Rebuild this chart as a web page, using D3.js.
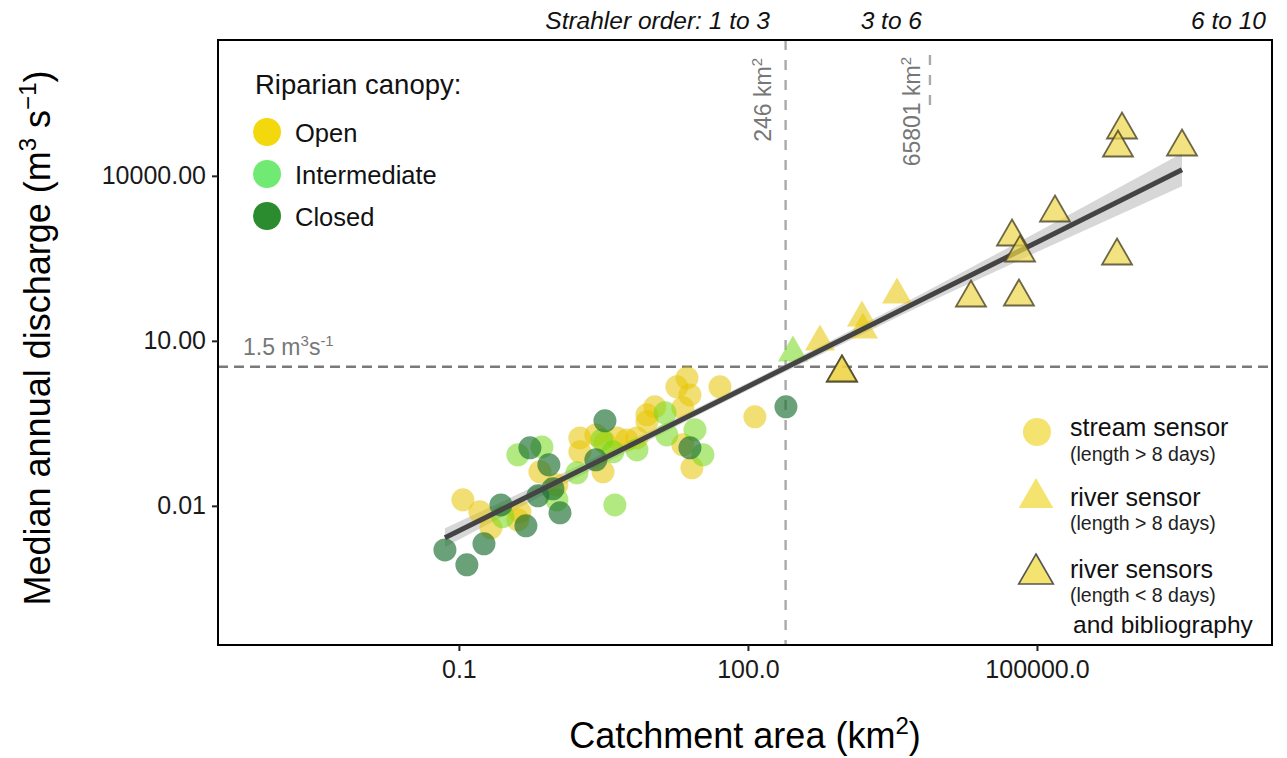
<!DOCTYPE html>
<html>
<head>
<meta charset="utf-8">
<script src="https://cdn.jsdelivr.net/npm/d3@7"></script>
<style>
  body { margin: 0; background: #fff; }
  text { font-family: "Liberation Sans", Arial, sans-serif; }
</style>
</head>
<body>
<script>
// stream sensors, one array per canopy class: [area km2, discharge m3/s]
var openPts = [[0.110,0.01285],[0.165,0.00778],[0.215,0.00398],[0.409,0.00556],[0.430,0.00778],
  [0.693,0.0415],[1.04,0.0241],[1.80,0.172],[1.80,0.0959],[2.64,0.195],[3.13,0.0415],[3.28,0.140],
  [4.37,0.172],[5.54,0.158],[7.04,0.172],[8.95,0.337],[10.8,0.631],[8.95,0.451],[18.3,1.46],
  [23.3,2.12],[25.0,1.04],[21.1,0.605],[21.1,0.129],[26.2,0.0491],[51.2,1.46],[118,0.415]];
var interPts = [[0.286,0.00631],[0.409,0.0846],[0.727,0.118],[1.04,0.01285],[1.68,0.0398],
  [4.16,0.0104],[3.97,0.0959],[7.04,0.104],[13.8,0.491],[14.4,0.195],[28.2,0.241],[34.1,0.0846],[3.05,0.158]];
var closedPts = [[0.0716,0.00158],[0.121,0.000845],[0.182,0.00204],[0.273,0.0104],[0.496,0.00433],
  [0.546,0.1135],[0.859,0.0556],[0.661,0.0152],[1.12,0.00746],[0.946,0.0204],[3.28,0.351],
  [2.64,0.0686],[25.0,0.1135],[248,0.631]];

// river sensors (> 8 days), [area, discharge, canopy]
var riverPts = [[293,6.05,"inter"],[559,9.59,"open"],[1525,26.2,"open"],[1563,15.8,"open"],[3524,68.6,"open"]];
// river sensors (< 8 days) and bibliography
var biblioPts = [[946,2.62],[946,2.62],[20650,60.5],[65000,63.1],[55080,778],[66680,398],
  [153800,2125],[677500,351],[762800,68550],[693400,32300],[3200000,33660]];

// fitted line and its confidence band
var fitArea = [0.0716, 1, 30, 248, 5000, 100000, 3200000];
var fitQ    = [0.00262, 0.0263, 0.515, 3.27, 45.3, 622, 12900];
var fitLo   = [0.00178, 0.0205, 0.439, 2.78, 36.0, 411, 6470];
var fitHi   = [0.0039, 0.0338, 0.605, 3.84, 57.0, 942, 25760];

var xTicks = [0.1, 100, 100000];
var xTickLabels = ["0.1", "100.0", "100000.0"];
var yTicks = [0.01, 10, 10000];
var yTickLabels = ["0.01", "10.00", "10000.00"];

var thresholdQ = 3.37;      // drawn position of the 1.5 m3/s line
var strahlerSplit = 246;    // km2
var strahlerSplit2 = 7745;  // drawn position of the 65801 km2 mark
var strahlerLabels = ["Strahler order: 1 to 3", "3 to 6", "6 to 10"];
var canopyLabels = ["Open", "Intermediate", "Closed"];

var W = 1287, H = 758;
var L = 218, R = 1272, T = 40, B = 645;

var pointColor = { open: "#E8C500", inter: "#72D81A", closed: "#1A6E30" };
var keyColor = ["#F2D80C", "#70EA72", "#2A8C2E"];

var svg = d3.select("body").append("svg").attr("width", W).attr("height", H);
svg.append("rect").attr("width", W).attr("height", H).attr("fill", "#fff");

var x = d3.scaleLog().domain([3.16e-4, 2.75e7]).range([L, R]);
var y = d3.scaleLog().domain([2.95e-5, 2.95e6]).range([B, T]);

var plot = svg.append("g");
plot.append("clipPath").attr("id", "clip").append("rect")
  .attr("x", L).attr("y", T).attr("width", R - L).attr("height", B - T);
var g = plot.append("g").attr("clip-path", "url(#clip)");

// reference lines
g.append("line").attr("x1", L).attr("x2", R)
  .attr("y1", y(thresholdQ)).attr("y2", y(thresholdQ))
  .attr("stroke", "#7a7a7a").attr("stroke-width", 2.4).attr("stroke-dasharray", "10,6");
g.append("line").attr("x1", x(strahlerSplit)).attr("x2", x(strahlerSplit))
  .attr("y1", T).attr("y2", B)
  .attr("stroke", "#aaa").attr("stroke-width", 2.4).attr("stroke-dasharray", "10,10");
g.append("line").attr("x1", x(strahlerSplit2)).attr("x2", x(strahlerSplit2))
  .attr("y1", y(1.58e6)).attr("y2", y(146000))
  .attr("stroke", "#aaa").attr("stroke-width", 2.4).attr("stroke-dasharray", "10,10");

g.append("text").attr("transform", "translate(" + (x(strahlerSplit) - 15) + "," + (T + 18) + ") rotate(-90)")
  .attr("text-anchor", "end").attr("font-size", 23).attr("fill", "#777")
  .html('246 km<tspan dy="-9" font-size="15">2</tspan>');
g.append("text").attr("transform", "translate(" + (x(strahlerSplit2) - 10) + "," + (T + 17) + ") rotate(-90)")
  .attr("text-anchor", "end").attr("font-size", 23).attr("fill", "#777")
  .html('65801 km<tspan dy="-9" font-size="15">2</tspan>');
g.append("text").attr("x", 243).attr("y", y(thresholdQ) - 12)
  .attr("font-size", 23).attr("fill", "#777")
  .html('1.5 m<tspan dy="-9" font-size="15">3</tspan><tspan dy="9">s</tspan><tspan dy="-9" font-size="15">-1</tspan>');

// confidence band
var idx = d3.range(fitArea.length);
g.append("path").datum(idx)
  .attr("d", d3.area().x(function(i){ return x(fitArea[i]); })
    .y0(function(i){ return y(fitLo[i]); }).y1(function(i){ return y(fitHi[i]); }))
  .attr("fill", "#bdbdbd").attr("opacity", 0.6);

// stream sensor circles
function dots(data, col, op) {
  g.append("g").selectAll("circle").data(data).enter().append("circle")
    .attr("cx", function(d){ return x(d[0]); })
    .attr("cy", function(d){ return y(d[1]); })
    .attr("r", 11.5).attr("fill", col).attr("opacity", op);
}
dots(openPts, pointColor.open, 0.55);
dots(interPts, pointColor.inter, 0.55);
dots(closedPts, pointColor.closed, 0.65);

var tri = d3.symbol().type(d3.symbolTriangle).size(390);
g.append("g").selectAll("path").data(riverPts).enter().append("path")
  .attr("d", tri)
  .attr("transform", function(d){ return "translate(" + x(d[0]) + "," + y(d[1]) + ")"; })
  .attr("fill", function(d){ return pointColor[d[2]]; }).attr("opacity", 0.55);

g.append("path").datum(idx)
  .attr("d", d3.line().x(function(i){ return x(fitArea[i]); }).y(function(i){ return y(fitQ[i]); }))
  .attr("fill", "none").attr("stroke", "#444").attr("stroke-width", 5);

g.append("g").selectAll("path").data(biblioPts).enter().append("path")
  .attr("d", tri)
  .attr("transform", function(d){ return "translate(" + x(d[0]) + "," + y(d[1]) + ")"; })
  .attr("fill", "#EED64A").attr("fill-opacity", 0.7)
  .attr("stroke", "#4a4426").attr("stroke-opacity", 0.8).attr("stroke-width", 1.8);

// panel box
svg.append("rect").attr("x", L).attr("y", T).attr("width", R - L).attr("height", B - T)
  .attr("fill", "none").attr("stroke", "#000").attr("stroke-width", 2);

// axes
var xAxis = svg.append("g").attr("transform", "translate(0," + B + ")")
  .call(d3.axisBottom(x).tickValues(xTicks).tickSize(6).tickPadding(9)
    .tickFormat(function(d, i){ return xTickLabels[i]; }));
var yAxis = svg.append("g").attr("transform", "translate(" + L + ",0)")
  .call(d3.axisLeft(y).tickValues(yTicks).tickSize(6).tickPadding(6)
    .tickFormat(function(d, i){ return yTickLabels[i]; }));
[xAxis, yAxis].forEach(function(a){
  a.select(".domain").remove();
  a.selectAll(".tick line").attr("stroke", "#222").attr("stroke-width", 2);
  a.selectAll(".tick text").attr("font-size", 25).attr("fill", "#1a1a1a")
    .attr("font-family", "Liberation Sans, Arial, sans-serif");
});

svg.append("text").attr("x", (L + R) / 2).attr("y", 748).attr("text-anchor", "middle")
  .attr("font-size", 36).attr("fill", "#000")
  .html('Catchment area (km<tspan dy="-14" font-size="24">2</tspan><tspan dy="14">)</tspan>');
svg.append("text").attr("transform", "translate(50,338) rotate(-90)")
  .attr("text-anchor", "middle").attr("font-size", 36).attr("fill", "#000")
  .html('Median annual discharge (m<tspan dy="-14" font-size="24">3</tspan><tspan dy="14"> s</tspan><tspan dy="-14" font-size="24">\u22121</tspan><tspan dy="14">)</tspan>');

// Strahler order labels
var sx = [770, 922, 1266];
svg.selectAll(".strahler").data(strahlerLabels).enter().append("text")
  .attr("x", function(d, i){ return sx[i]; }).attr("y", 29).attr("text-anchor", "end")
  .attr("font-size", 24.5).attr("font-style", "italic").attr("fill", "#111")
  .text(function(d){ return d; });

// canopy legend
svg.append("text").attr("x", 255).attr("y", 94).attr("font-size", 27.5).attr("fill", "#111")
  .text("Riparian canopy:");
canopyLabels.forEach(function(lab, i){
  var cy = 132 + i * 42;
  svg.append("circle").attr("cx", 267).attr("cy", cy).attr("r", 14).attr("fill", keyColor[i]);
  svg.append("text").attr("x", 295).attr("y", cy + 10).attr("font-size", 25.5).attr("fill", "#111").text(lab);
});

// sensor legend
var keyFill = "#F4E36E";
svg.append("circle").attr("cx", 1037).attr("cy", 432).attr("r", 14).attr("fill", keyFill);
var bigTri = d3.symbol().type(d3.symbolTriangle).size(520);
svg.append("path").attr("d", bigTri).attr("transform", "translate(1036,498)").attr("fill", keyFill);
svg.append("path").attr("d", bigTri).attr("transform", "translate(1036,574)")
  .attr("fill", keyFill).attr("stroke", "#555").attr("stroke-width", 1.6);
var big = [["stream sensor", 436], ["river sensor", 506], ["river sensors", 578]];
big.forEach(function(b){
  svg.append("text").attr("x", 1070).attr("y", b[1]).attr("font-size", 25).attr("fill", "#111").text(b[0]);
});
var small = [["(length > 8 days)", 461], ["(length > 8 days)", 530], ["(length < 8 days)", 602]];
small.forEach(function(s){
  svg.append("text").attr("x", 1070).attr("y", s[1]).attr("font-size", 19.5).attr("fill", "#222").text(s[0]);
});
svg.append("text").attr("x", 1073).attr("y", 633).attr("font-size", 24.5).attr("fill", "#111").text("and bibliography");
</script>
</body>
</html>
